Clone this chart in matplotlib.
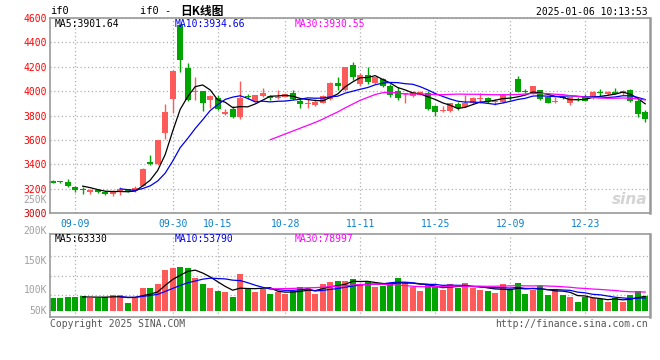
import matplotlib
matplotlib.use('Agg')
import matplotlib.pyplot as plt
import numpy as np
import pandas as pd

# daily K-line of if0, 2024-09-04 .. 2025-01-03 (80 sessions)
opens = [3262, 3258, 3258, 3215, 3195, 3175, 3190, 3175, 3155, 3175,
         3195, 3178, 3225, 3415, 3400, 3655, 3935, 4545, 4190, 3995,
         4000, 3925, 3940, 3812, 3852, 3790, 3958, 3922, 3960, 3960,
         3945, 3955, 3988, 3922, 3897, 3888, 3906, 3935, 4063, 4010,
         4215, 4058, 4132, 4065, 4098, 4040, 4003, 3978, 3956, 3970,
         3983, 3878, 3835, 3835, 3893, 3872, 3900, 3937, 3942, 3910,
         3913, 3970, 4097, 3998, 3982, 4008, 3948, 3910, 3951, 3905,
         3936, 3948, 3942, 3993, 3978, 3995, 3983, 4010, 3921, 3832]
highs = [3270, 3262, 3275, 3225, 3216, 3200, 3195, 3178, 3185, 3215,
         3200, 3225, 3370, 3475, 3600, 3895, 4170, 4548, 4230, 4120,
         4005, 3965, 3965, 3850, 3875, 4080, 3975, 3970, 4023, 3968,
         4010, 3980, 4010, 3940, 3935, 3937, 3965, 4075, 4118, 4198,
         4235, 4150, 4195, 4120, 4105, 4055, 4036, 3985, 4000, 3998,
         4000, 3886, 3875, 3905, 3910, 3968, 3948, 3982, 3955, 3932,
         3980, 3995, 4125, 4020, 4045, 4012, 3955, 3952, 3960, 3952,
         3950, 3975, 3998, 4015, 3998, 4022, 4012, 4015, 3932, 3845]
lows = [3245, 3250, 3215, 3172, 3160, 3160, 3165, 3150, 3140, 3150,
        3170, 3172, 3220, 3395, 3395, 3605, 3820, 4160, 3920, 3925,
        3840, 3865, 3845, 3805, 3780, 3775, 3935, 3918, 3950, 3925,
        3935, 3950, 3930, 3865, 3860, 3882, 3900, 3925, 4010, 4005,
        4090, 4040, 4055, 4060, 4035, 3955, 3928, 3900, 3950, 3965,
        3845, 3800, 3825, 3830, 3848, 3868, 3895, 3899, 3900, 3888,
        3905, 3927, 3990, 3982, 3978, 3925, 3900, 3905, 3935, 3885,
        3915, 3915, 3935, 3960, 3970, 3975, 3972, 3912, 3785, 3750]
closes = [3250, 3255, 3220, 3185, 3192, 3188, 3175, 3155, 3170, 3195,
          3178, 3203, 3365, 3405, 3595, 3830, 4165, 4258, 3925, 4005,
          3900, 3960, 3850, 3830, 3785, 3940, 3950, 3968, 3987, 3945,
          3952, 3975, 3935, 3892, 3902, 3912, 3960, 4070, 4040, 4195,
          4113, 4132, 4078, 4118, 4038, 3970, 3942, 3982, 3995, 3995,
          3855, 3832, 3840, 3900, 3860, 3905, 3943, 3942, 3922, 3916,
          3968, 3965, 3995, 3993, 4042, 3933, 3906, 3914, 3947, 3949,
          3930, 3922, 3995, 3987, 3994, 3978, 4004, 3915, 3812, 3770]
volumes_k = [59, 59, 64, 64, 68, 56, 56, 64, 71, 71,
             37, 59, 104, 104, 120, 184, 190, 197, 190, 148,
             120, 104, 89, 86, 64, 165, 96, 86, 96, 76,
             86, 76, 89, 108, 104, 76, 120, 130, 134, 134,
             142, 116, 134, 108, 113, 125, 148, 128, 107, 89,
             119, 111, 93, 119, 104, 125, 104, 93, 89, 80,
             119, 92, 125, 76, 92, 111, 71, 98, 71, 64,
             39, 62, 59, 53, 39, 56, 41, 71, 89, 68]

date_idx = [3, 16, 22, 31, 41, 51, 61, 71]
date_labels = ['09-09', '09-30', '10-15', '10-28', '11-11', '11-25', '12-09', '12-23']
price_ticks = [3000, 3200, 3400, 3600, 3800, 4000, 4200, 4400, 4600]
vol_labels = ['250K', '200K', '150K', '100K', '50K']

UP = '#ff5a5a'
DOWN = '#00a400'
GRID = '#b0b0b0'
FRAME = '#999999'
MONO = 'DejaVu Sans Mono'

W, H = 660, 360


def box(l, t, r, b):
    return [l / W, 1 - b / H, (r - l) / W, (b - t) / H]


o = np.array(opens, dtype=float)
h = np.array(highs, dtype=float)
l = np.array(lows, dtype=float)
c = np.array(closes, dtype=float)
v = np.array(volumes_k, dtype=float) * 1000
x = np.arange(len(c))
cols = [UP if cc >= oo else DOWN for oo, cc in zip(o, c)]

fig = plt.figure(figsize=(6.6, 3.6), dpi=100)
fig.patch.set_facecolor('white')

ax = fig.add_axes(box(50, 18, 650, 213))
vax = fig.add_axes(box(50, 234, 650, 317))

for a in (ax, vax):
    a.set_xlim(-0.36, 79.64)
    for s in a.spines.values():
        s.set_color(FRAME)
        s.set_linewidth(1.2)
    a.spines['right'].set_linewidth(1.8)
    a.set_xticks(date_idx)
    a.tick_params(length=0)
    a.grid(True, color=GRID, linestyle=(0, (1, 2)), linewidth=0.9)
    a.set_axisbelow(True)

# candles
ax.vlines(x, l, h, colors=cols, linewidth=1)
body = np.maximum(np.abs(c - o), 7)
ax.bar(x, body, bottom=np.minimum(o, c), width=0.75, color=cols, linewidth=0)

cs = pd.Series(c)
ax.plot(x, cs.rolling(5).mean(), color='black', lw=0.9)
ax.plot(x, cs.rolling(10).mean(), color='#0000ee', lw=0.9)
ax.plot(x, cs.rolling(30).mean(), color='#ff00ff', lw=0.9)

ax.set_ylim(3000, 4600)
ax.set_yticks(price_ticks)
ax.set_yticklabels([str(t) for t in price_ticks], fontsize=7, family=MONO)
for t, lab in zip(price_ticks, ax.get_yticklabels()):
    lab.set_color('#cc0000' if t == 3000 else '#ff0000')
ax.tick_params(axis='y', pad=2.5)
ax.set_xticklabels(date_labels, color='#0a80d0', fontsize=7, family=MONO)
ax.tick_params(axis='x', pad=4)

# volume
vax.bar(x, v, width=0.8, color=cols, linewidth=0)
vs = pd.Series(v)
vax.plot(x, vs.rolling(5).mean(), color='black', lw=0.9)
vax.plot(x, vs.rolling(10).mean(), color='#0000ee', lw=0.9)
vax.plot(x, vs.rolling(30).mean(), color='#ff00ff', lw=0.9)
vax.set_ylim(-26700, 342650)
vax.set_yticks([71200, 155750, 244750])
vax.set_yticklabels([])
vax.set_xticklabels([])

# volume axis labels (drawn where the original puts them)
for lab, py in zip(vol_labels, [200, 231, 261, 290, 311]):
    fig.text(47 / W, 1 - py / H, lab, ha='right', va='center', color='#a0a0a0',
             fontsize=7, family=MONO)

# header texts
fig.text(50 / W, 1 - 11 / H, 'if0', ha='left', va='center', fontsize=7.5, family=MONO)
fig.text(140 / W, 1 - 11 / H, 'if0 -', ha='left', va='center', fontsize=7.5, family=MONO)
fig.text(180 / W, 1 - 11 / H, '日K线图', ha='left', va='center', fontsize=8.5,
         family=['Noto Sans CJK SC', MONO], fontweight='bold')
fig.text(648 / W, 1 - 12 / H, '2025-01-06 10:13:53', ha='right', va='center',
         fontsize=7, family=MONO)

fig.text(55 / W, 1 - 24 / H, 'MA5:3901.64', color='black', fontsize=7, family=MONO, va='center')
fig.text(175 / W, 1 - 24 / H, 'MA10:3934.66', color='#0000ee', fontsize=7, family=MONO, va='center')
fig.text(295 / W, 1 - 24 / H, 'MA30:3930.55', color='#ff00ff', fontsize=7, family=MONO, va='center')

fig.text(55 / W, 1 - 238.5 / H, 'MA5:63330', color='black', fontsize=7, family=MONO, va='center')
fig.text(175 / W, 1 - 238.5 / H, 'MA10:53790', color='#0000ee', fontsize=7, family=MONO, va='center')
fig.text(295 / W, 1 - 238.5 / H, 'MA30:78997', color='#ff00ff', fontsize=7, family=MONO, va='center')

fig.text(50 / W, 1 - 324 / H, 'Copyright 2025 SINA.COM', color='#555555', fontsize=7,
         family=MONO, va='center')
fig.text(648 / W, 1 - 324 / H, 'http://finance.sina.com.cn', color='#555555', fontsize=7,
         family=MONO, va='center', ha='right')

# faint sina watermark
fig.text(630 / W, 1 - 200 / H, 'sina', color='#d4d4d4', fontsize=11, fontweight='bold',
         fontstyle='italic', ha='center', va='center')

fig.savefig('out.png', dpi=100)
